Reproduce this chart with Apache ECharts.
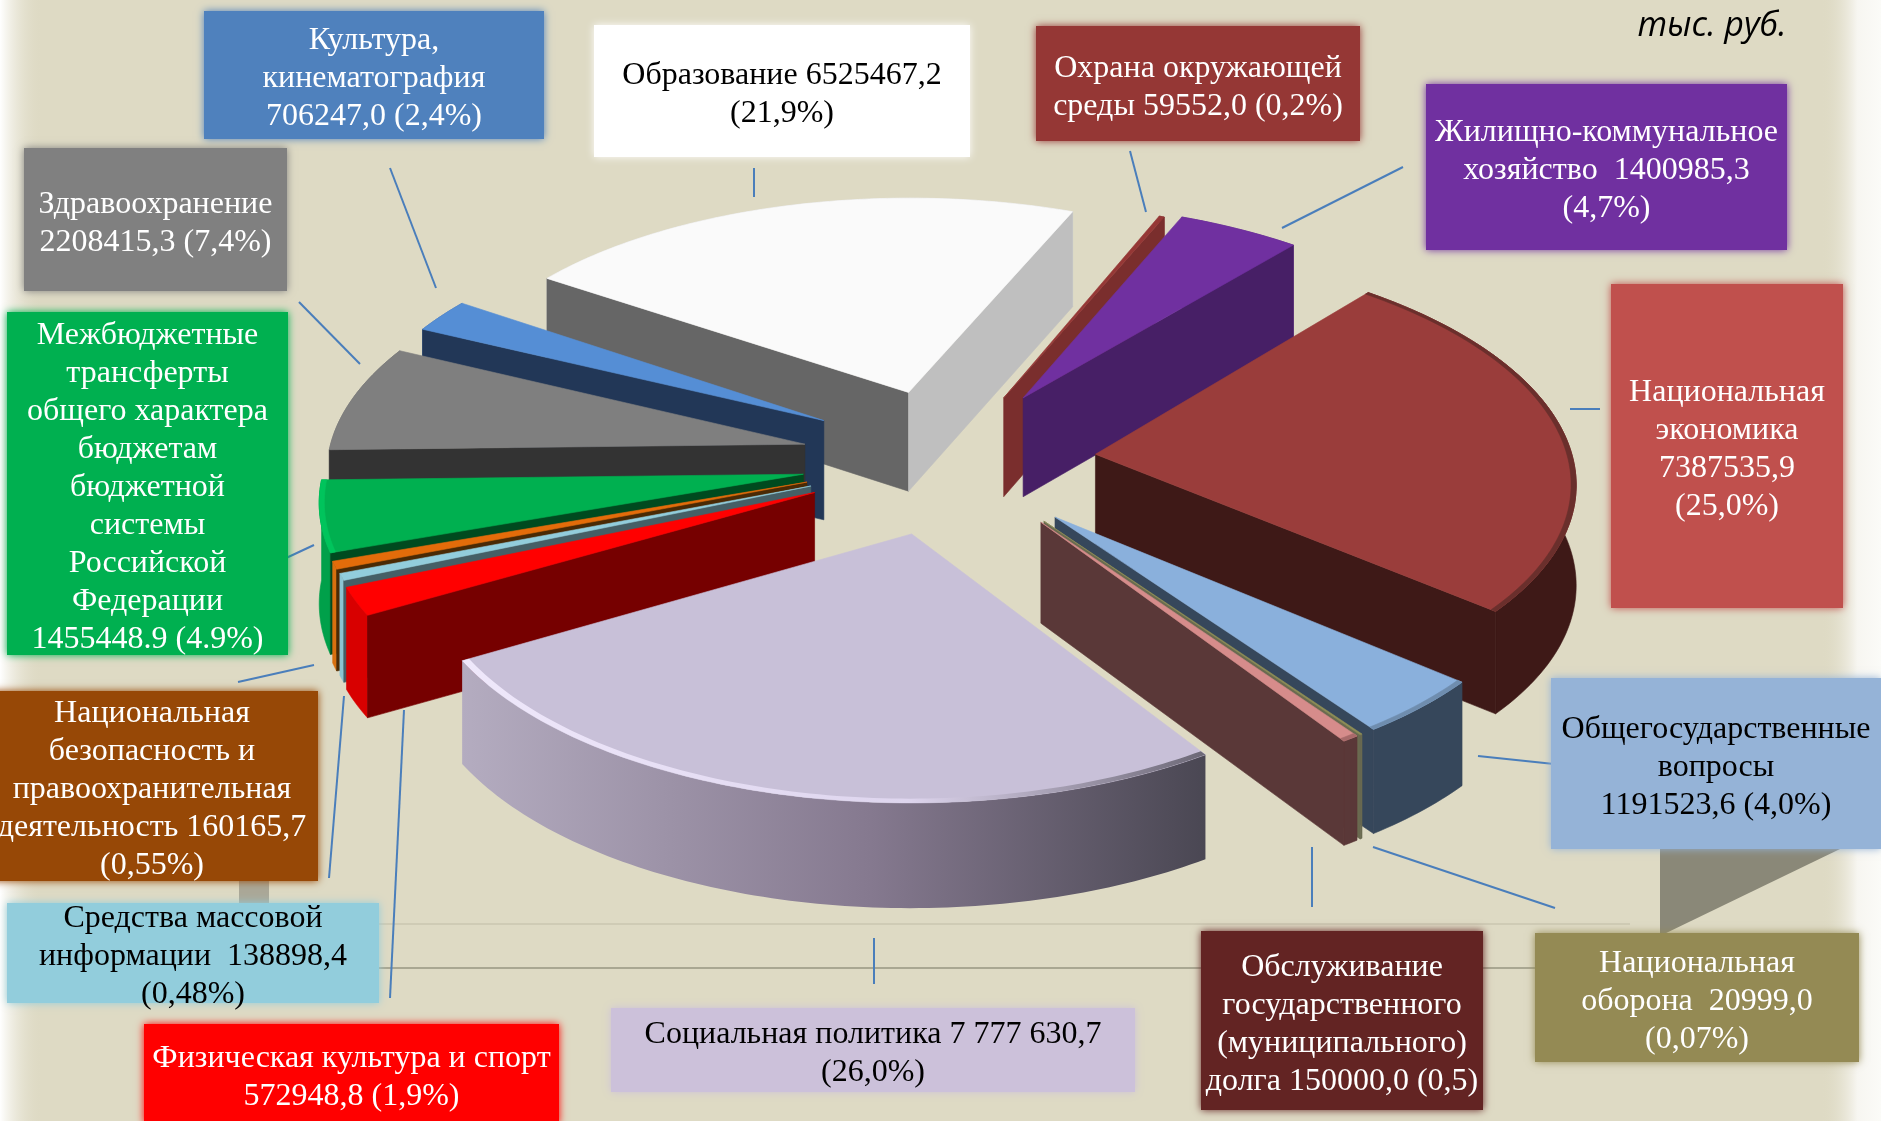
<!DOCTYPE html>
<html>
<head>
<meta charset="utf-8">
<title>Расходы бюджета</title>
<script src="https://cdn.jsdelivr.net/npm/echarts@6/dist/echarts.min.js"></script>
<style>
    html, body { margin: 0; padding: 0; overflow: hidden; background: #dedac4; }
    #chart { width: 1881px; height: 1121px; }
</style>
</head>
<body>
<div id="chart"></div>
<script>
// clockwise from the upper right edge of "Национальная экономика"
const sliceNames = [
    'Национальная экономика', 'Общегосударственные вопросы', 'Национальная оборона',
    'Обслуживание долга', 'Социальная политика', 'Физическая культура и спорт',
    'Средства массовой информации', 'Национальная безопасность', 'Межбюджетные трансферты',
    'Здравоохранение', 'Культура, кинематография', 'Образование',
    'Охрана окружающей среды', 'Жилищно-коммунальное хозяйство'
]
const sliceValues = [
    7387535.9, 1191523.6, 20999.0, 150000.0, 7777630.7, 572948.8, 138898.4,
    160165.7, 1455448.9, 2208415.3, 706247.0, 6525467.2, 59552.0, 1400985.3
]
// how far each slice is pulled out of the pie
const explodeX = [172, 128, 117, 114, -12, -108, -112, -116, -120, -120, -102, -16, 82, 102]
const explodeY = [-16, 111, 119, 121, 144, 62, 49, 41, 25, -37, -87, -148, -136, -136]

const topColors = ['#9a3d3b', '#8ab0dc', '#8f8e55', '#d68c8b', '#c8c0d8', '#ff0000', '#92cddc', '#e36c0a', '#00b050', '#7f7f7f', '#558ed5', '#fafafa', '#953735', '#7030a0']
const startWallColors = ['#3e1917', '#36475b', '#6a6a50', '#5a3838', '#4b4855', '#760000', '#455f66', '#4a2a05', '#004a1f', '#333333', '#223757', '#666666', '#7a2e2d', '#471f66']
const endWallColors = ['#3e1917', '#36475b', '#6a6a50', '#5a3838', '#4b4855', '#760000', '#455f66', '#4a2a05', '#004a1f', '#333333', '#223757', '#bfbfbf', '#7a2e2d', '#471f66']
const outerWallColors = ['#3e1917', '#36475b', '#6a6a50', '#5a3838', '#8c8296', '#d80000', '#8cc4d2', '#d8700f', '#00a04a', '#6f6f6f', '#3f6cab', '#d8d8d8', '#7a2e2d', '#5c2885']
const bevelColors = ['#6a2f2c', '#6f8dae', null, '#a86a6a', null, null, null, null, '#00c45c', null, null, null, null, null]

const labelLines = [
    'Культура,\nкинематография\n706247,0 (2,4%)',
    'Образование 6525467,2\n(21,9%)',
    'Здравоохранение\n2208415,3 (7,4%)',
    'Межбюджетные\nтрансферты\nобщего характера\nбюджетам\nбюджетной\nсистемы\nРоссийской\nФедерации\n1455448.9 (4.9%)',
    'Охрана окружающей\nсреды 59552,0 (0,2%)',
    'Жилищно-коммунальное\nхозяйство  1400985,3\n(4,7%)',
    'Национальная\nэкономика\n7387535,9\n(25,0%)',
    'Общегосударственные\nвопросы\n1191523,6 (4,0%)',
    'Национальная\nоборона  20999,0\n(0,07%)',
    'Обслуживание\nгосударственного\n(муниципального)\nдолга 150000,0 (0,5)',
    'Социальная политика 7 777 630,7\n(26,0%)',
    'Физическая культура и спорт\n572948,8 (1,9%)',
    'Средства массовой\nинформации  138898,4\n(0,48%)',
    'Национальная\nбезопасность и\nправоохранительная\nдеятельность 160165,7\n(0,55%)'
]
const labelFills = ['#4f81bd', '#ffffff', '#808080', '#00b050', '#953735', '#7030a0', '#c0504d', '#95b3d7', '#948a54', '#632423', '#ccc1da', '#ff0000', '#92cddc', '#974806']
const labelInk = ['#fff', '#000', '#fff', '#fff', '#fff', '#fff', '#fff', '#000', '#fff', '#fff', '#000', '#fff', '#000', '#fff']
// x, y, width, height
const labelBoxes = [
    [204, 11, 340, 128], [594, 25, 376, 132], [24, 148, 263, 143], [7, 312, 281, 343],
    [1036, 26, 324, 115], [1426, 84, 361, 166], [1611, 284, 232, 324], [1551, 678, 330, 171],
    [1535, 933, 324, 129], [1201, 931, 282, 179], [611, 1008, 524, 84], [144, 1024, 415, 100],
    [7, 903, 372, 100], [-14, 691, 332, 190]
]
const leaderLines = [
    [390, 168, 436, 288], [754, 168, 754, 197], [1130, 151, 1146, 212], [1403, 167, 1282, 228],
    [1570, 409, 1600, 409], [1478, 756, 1554, 764], [1373, 847, 1555, 908], [1312, 847, 1312, 907],
    [874, 938, 874, 984], [404, 710, 390, 998], [344, 696, 329, 878], [314, 665, 238, 682],
    [314, 545, 284, 559], [299, 302, 360, 364]
]

const centerX = 924
const centerY = 462
const radius = 478
const squash = 0.485
const perspective = 0.10
const thickness = 100
const startAngle = -49.5

const project = (wx, wy, wz) => {
    const s = 1 + perspective * wy / radius
    return [centerX + wx * s, centerY + squash * wy * s + wz * (1 + 0.4 * (s - 1))]
}

const sliceAngles = () => {
    const total = sliceValues.reduce((a, b) => a + b, 0)
    let angle = startAngle
    return sliceValues.map(v => {
        const from = angle
        angle += v / total * 360
        return [from, angle]
    })
}

const angles = sliceAngles()
const rad = d => d * Math.PI / 180

// back slices are painted first, so the front ones sit on top
const paintRank = angles
    .map((a, i) => ({ i, y: Math.sin(rad((a[0] + a[1]) / 2)) }))
    .sort((a, b) => a.y - b.y)
    .reduce((acc, item, rank) => { acc[item.i] = rank; return acc }, {})

const renderSlice = (params, api) => {
    const i = params.dataIndex
    const [from, to] = angles[i]
    const ox = explodeX[i]
    const oy = explodeY[i]
    const point = (angle, r, h) => project(ox + Math.cos(rad(angle)) * r, oy + Math.sin(rad(angle)) * r, h)

    const steps = Math.max(3, Math.ceil(to - from))
    const arc = (r, h) => {
        const pts = []
        for (let s = 0; s <= steps; s++) pts.push(point(from + (to - from) * s / steps, r, h))
        return pts
    }

    const base = paintRank[i] * 10 + 1
    const children = []
    const poly = (points, fill, z2) => children.push({
        type: 'polygon',
        shape: { points },
        style: { fill, stroke: typeof fill === 'string' ? fill : null, lineWidth: 0.6 },
        z2: base + z2
    })

    const isSocial = sliceNames[i] === 'Социальная политика'
    const outerFill = isSocial
        ? new echarts.graphic.LinearGradient(0, 0, 1, 0, [
            { offset: 0, color: '#b4acc0' },
            { offset: 0.55, color: '#85798f' },
            { offset: 1, color: '#4a4753' }
        ])
        : outerWallColors[i]
    poly(arc(radius, 0).concat(arc(radius, thickness).reverse()), outerFill, 0)

    if (Math.sin(rad(from - 90)) > 0) {
        poly([point(0, 0, 0), point(from, radius, 0), point(from, radius, thickness), point(0, 0, thickness)], startWallColors[i], 1)
    }
    if (Math.sin(rad(to + 90)) > 0) {
        poly([point(0, 0, 0), point(to, radius, 0), point(to, radius, thickness), point(0, 0, thickness)], endWallColors[i], 2)
    }

    poly([point(0, 0, 0)].concat(arc(radius, 0)), topColors[i], 3)

    if (isSocial) {
        const sheen = new echarts.graphic.LinearGradient(0, 0, 1, 0, [
            { offset: 0, color: '#efe8fb' },
            { offset: 0.6, color: '#ded5ee' },
            { offset: 1, color: '#6c6876' }
        ])
        poly(arc(radius, 0).concat(arc(radius - 7, 0).reverse()), sheen, 4)
    } else if (bevelColors[i]) {
        poly(arc(radius, 0).concat(arc(radius - 5, 0).reverse()), bevelColors[i], 4)
    }

    return { type: 'group', children }
}

const backdrop = () => {
    const fade = (x, width, left) => ({
        type: 'rect',
        z: 0,
        shape: { x, y: 0, width, height: 1121 },
        style: {
            fill: new echarts.graphic.LinearGradient(0, 0, 1, 0, left
                ? [{ offset: 0, color: '#ffffff' }, { offset: 1, color: 'rgba(222,218,196,0)' }]
                : [{ offset: 0, color: 'rgba(222,218,196,0)' }, { offset: 0.6, color: '#f7f6f1' }, { offset: 1, color: '#fbfbf8' }])
        }
    })
    const rule = (x1, x2, y, stroke) => ({
        type: 'line',
        z: 0,
        shape: { x1, y1: y, x2, y2: y },
        style: { stroke, lineWidth: 2 }
    })
    return [
        fade(0, 42, true),
        fade(1822, 59, false),
        rule(378, 1630, 924, '#cfcbb5'),
        rule(378, 1540, 968, '#a9a792'),
        { type: 'polygon', z: 1, shape: { points: [[1660, 849], [1840, 849], [1660, 936]] }, style: { fill: '#8a8878' } },
        { type: 'rect', z: 1, shape: { x: 239, y: 874, width: 30, height: 30 }, style: { fill: '#aaa898' } }
    ]
}

const labelGraphics = () => {
    const items = []
    labelLines.forEach((text, i) => {
        const [x, y, width, height] = labelBoxes[i]
        items.push({
            type: 'rect',
            z: 5,
            shape: { x, y, width, height },
            style: { fill: labelFills[i], shadowBlur: 8, shadowColor: labelFills[i] }
        })
        items.push({
            type: 'text',
            z: 6,
            x: x + width / 2,
            y: y + height / 2 + 4,
            style: {
                text,
                fill: labelInk[i],
                font: '32px "Liberation Serif"',
                lineHeight: 38,
                align: 'center',
                verticalAlign: 'middle'
            }
        })
    })
    leaderLines.forEach(([x1, y1, x2, y2]) => items.push({
        type: 'line',
        z: 4,
        shape: { x1, y1, x2, y2 },
        style: { stroke: '#4a7ebb', lineWidth: 2 }
    }))
    items.push({
        type: 'text',
        z: 6,
        x: 1712,
        y: 26,
        style: {
            text: 'тыс. руб.',
            fill: '#000',
            font: 'italic 34px "Open Sans"',
            align: 'center',
            verticalAlign: 'middle'
        }
    })
    return items
}

window.addEventListener('DOMContentLoaded', () => {
    const chart = echarts.init(document.getElementById('chart'))

    chart.setOption({
        animation: false,
        backgroundColor: '#dedac4',
        graphic: { elements: backdrop().concat(labelGraphics()) },
        series: [
            {
                type: 'custom',
                coordinateSystem: 'none',
                silent: true,
                z: 2,
                renderItem: renderSlice,
                data: sliceValues.map((v, i) => ({ name: sliceNames[i], value: v }))
            }
        ]
    })
})
</script>
</body>
</html>
